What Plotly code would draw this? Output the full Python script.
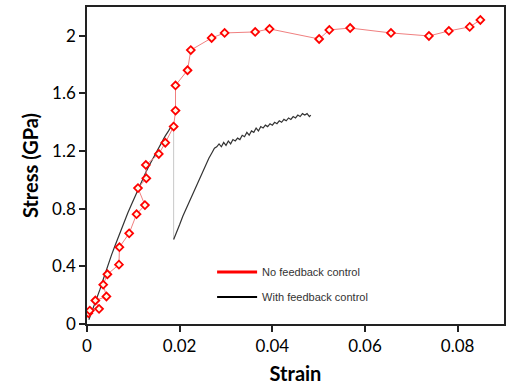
import plotly.graph_objects as go

# No feedback control (red diamonds)
red_strain = [0.0003, 0.0006, 0.0026, 0.0018, 0.0042, 0.0035, 0.0044, 0.0069, 0.0070, 0.0091,
              0.0107, 0.0125, 0.0110, 0.0128, 0.0127, 0.0155, 0.0169, 0.0187, 0.0191, 0.0191,
              0.0217, 0.0224, 0.0269, 0.0297, 0.0363, 0.0394, 0.0501, 0.0523, 0.0568, 0.0656,
              0.0738, 0.0781, 0.0826, 0.0849]
red_stress = [0.075, 0.093, 0.105, 0.163, 0.191, 0.273, 0.345, 0.412, 0.533, 0.629,
              0.762, 0.825, 0.943, 1.011, 1.104, 1.180, 1.258, 1.370, 1.481, 1.656,
              1.761, 1.901, 1.985, 2.020, 2.027, 2.048, 1.978, 2.041, 2.054, 2.020,
              1.999, 2.034, 2.062, 2.110]

# With feedback control: loading branch
blk1_strain = [0.0004, 0.0010, 0.0016, 0.0022, 0.0028, 0.0034, 0.0040, 0.0046, 0.0053, 0.0060,
               0.0066, 0.0072, 0.0080, 0.0088, 0.0096, 0.0104, 0.0112, 0.0120, 0.0128, 0.0136,
               0.0144, 0.0152, 0.0160, 0.0168, 0.0176, 0.0182, 0.0187]
blk1_stress = [0.03, 0.08, 0.13, 0.18, 0.24, 0.30, 0.36, 0.42, 0.48, 0.54,
               0.59, 0.65, 0.71, 0.77, 0.83, 0.89, 0.95, 1.01, 1.06, 1.11,
               1.16, 1.21, 1.26, 1.30, 1.34, 1.37, 1.40]

# Drop (thin grey connector)
drop_strain = [0.0187, 0.0187]
drop_stress = [1.40, 0.587]

# With feedback control: reloading branch
blk2_strain = [0.0187, 0.0193, 0.0200, 0.0207, 0.0214, 0.0222, 0.0229, 0.0236, 0.0243, 0.0250,
               0.0257, 0.0263, 0.0270, 0.0275, 0.0280, 0.0285, 0.0290, 0.0295, 0.0300, 0.0305,
               0.0310, 0.0315, 0.0320, 0.0325, 0.0330, 0.0335, 0.0340, 0.0345, 0.0350, 0.0355,
               0.0360, 0.0365, 0.0370, 0.0375, 0.0380, 0.0385, 0.0390, 0.0395, 0.0400, 0.0405,
               0.0410, 0.0415, 0.0420, 0.0425, 0.0430, 0.0435, 0.0440, 0.0445, 0.0450, 0.0455,
               0.0460, 0.0465, 0.0470, 0.0475, 0.0480, 0.0483]
blk2_stress = [0.587, 0.63, 0.69, 0.75, 0.80, 0.86, 0.91, 0.96, 1.01, 1.06,
               1.10, 1.15, 1.19, 1.22, 1.23, 1.25, 1.23, 1.26, 1.24, 1.27,
               1.25, 1.28, 1.27, 1.29, 1.28, 1.31, 1.30, 1.33, 1.31, 1.34,
               1.33, 1.36, 1.34, 1.37, 1.36, 1.38, 1.37, 1.39, 1.38, 1.40,
               1.39, 1.41, 1.40, 1.42, 1.41, 1.43, 1.42, 1.44, 1.43, 1.45,
               1.44, 1.46, 1.45, 1.46, 1.44, 1.45]

x_ticks = [0, 0.02, 0.04, 0.06, 0.08]
x_labels = ["0", "0.02", "0.04", "0.06", "0.08"]
y_ticks = [0, 0.4, 0.8, 1.2, 1.6, 2.0]
y_labels = ["0", "0.4", "0.8", "1.2", "1.6", "2"]

fig = go.Figure()

fig.add_trace(go.Scatter(x=blk1_strain, y=blk1_stress, mode="lines",
                         line=dict(color="#333333", width=1.2), showlegend=False))
fig.add_trace(go.Scatter(x=drop_strain, y=drop_stress, mode="lines",
                         line=dict(color="#c8c8c8", width=1), showlegend=False))
fig.add_trace(go.Scatter(x=blk2_strain, y=blk2_stress, mode="lines",
                         line=dict(color="#333333", width=1.2), showlegend=False))
fig.add_trace(go.Scatter(x=red_strain, y=red_stress, mode="lines+markers",
                         line=dict(color="#f08080", width=1),
                         marker=dict(symbol="diamond", size=6, color="#fffbe8",
                                     line=dict(color="#ff0000", width=1.8)),
                         showlegend=False))

# legend entries
fig.add_trace(go.Scatter(x=[None], y=[None], mode="lines", name="No feedback control",
                         legendgroup="a",
                         line=dict(color="#ff0000", width=3)))
fig.add_trace(go.Scatter(x=[None], y=[None], mode="lines", name="With feedback control",
                         legendgroup="b",
                         line=dict(color="#000000", width=2)))

fig.update_layout(
    width=510, height=391,
    margin=dict(l=87, r=6, t=7, b=67),
    paper_bgcolor="white", plot_bgcolor="white",
    font=dict(family="Lato, Open Sans, sans-serif", color="#000000"),
    legend=dict(x=0.30, y=0.21, xanchor="left", yanchor="top",
                font=dict(family="Liberation Sans, Arial", size=11, color="#333333"),
                bgcolor="rgba(0,0,0,0)", tracegroupgap=6, itemwidth=40),
)
fig.update_xaxes(range=[0, 0.09], tickvals=x_ticks, ticktext=x_labels,
                 showgrid=False, zeroline=False, automargin=False,
                 showline=True, linecolor="#222222", linewidth=1.5, mirror=True,
                 ticks="outside", ticklen=6, tickwidth=1.5, tickcolor="#222222",
                 tickfont=dict(size=17),
                 title=dict(text="<b>Strain</b>", font=dict(size=20), standoff=12))
fig.update_yaxes(range=[0, 2.2], tickvals=y_ticks, ticktext=y_labels,
                 showgrid=False, zeroline=False, automargin=False,
                 showline=True, linecolor="#222222", linewidth=1.5, mirror=True,
                 ticks="outside", ticklen=6, tickwidth=1.5, tickcolor="#222222",
                 tickfont=dict(size=17),
                 title=dict(text="<b>Stress (GPa)</b>", font=dict(size=20), standoff=8))

fig.write_html("out.html",
               config={"displayModeBar": False},
               post_script="document.body.style.margin='0';document.body.style.overflow='hidden';")
